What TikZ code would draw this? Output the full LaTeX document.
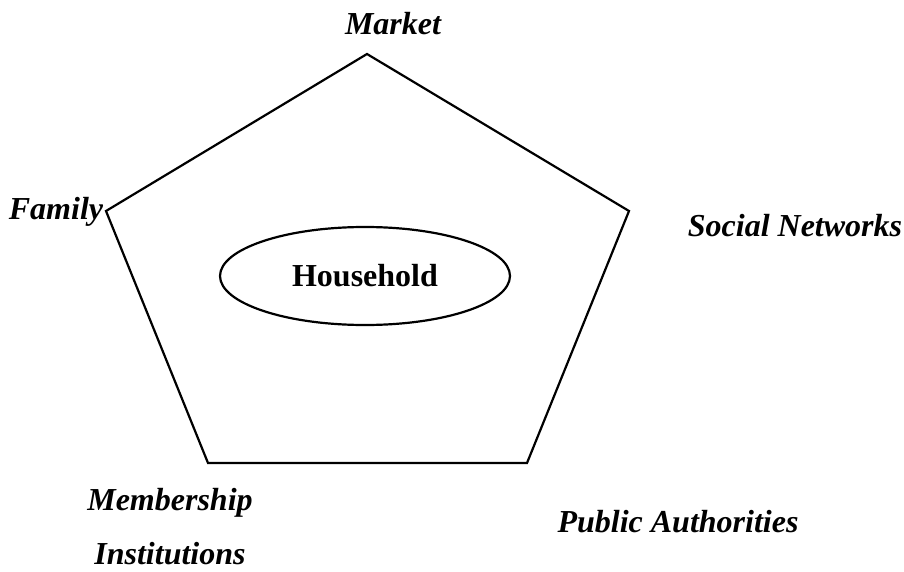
\documentclass[tikz,border=0pt]{standalone}
\usepackage{fontspec}
\setmainfont{Liberation Serif}
\usetikzlibrary{shapes.geometric}
\begin{document}
\begin{tikzpicture}[x=1pt,y=-1pt,
  lbl/.style={font=\fontsize{32}{38}\selectfont\bfseries\itshape, inner sep=0pt},
  edge/.style={line width=2.2pt, line join=miter}]
\useasboundingbox (0,0) rectangle (904,572);
% pentagon corners
\coordinate (top) at (367,54);
\coordinate (right) at (629,211);
\coordinate (br) at (527,463);
\coordinate (bl) at (208,463);
\coordinate (left) at (106,211);
\draw[edge] (top) -- (right) -- (br) -- (bl) -- (left) -- cycle;
% centre
\node[draw, line width=2.2pt, ellipse, inner sep=0pt, minimum width=290pt, minimum height=98pt,
      font=\fontsize{32}{38}\selectfont\bfseries] (house) at (365,276) {Household};
% surrounding labels
\node[lbl] (market) at (393,24) {Market};
\node[lbl] (family) at (56,212) {Family};
\node[lbl] (social) at (795,226) {Social Networks};
\node[lbl] (member) at (170,503) {Membership};
\node[lbl] (inst) at (170,554) {Institutions};
\node[lbl] (public) at (678,522) {Public Authorities};
\end{tikzpicture}
\end{document}
